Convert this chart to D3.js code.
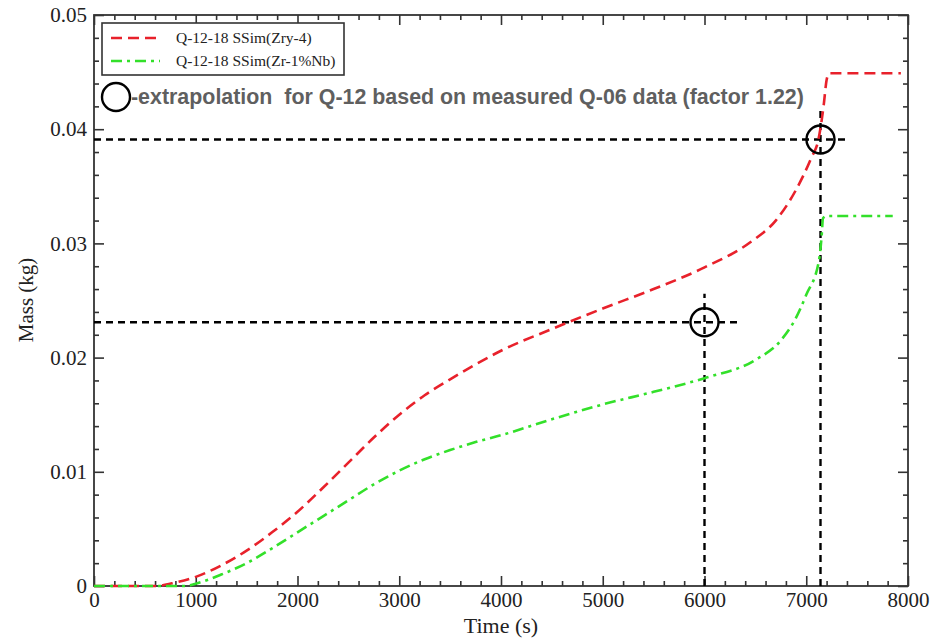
<!DOCTYPE html>
<html>
<head>
<meta charset="utf-8">
<script src="https://cdn.jsdelivr.net/npm/d3@7"></script>
<style>
  body { margin: 0; background: #fff; }
  svg { display: block; }
</style>
</head>
<body>
<div id="chart"></div>
<script>
// time (s) and mass (kg)
const timeZry = [0, 600, 800, 1000, 1250, 1500, 1750, 2000, 2250, 2500, 2750, 3000, 3250, 3500, 3750, 4000, 4500, 5000, 5500, 6000, 6450, 6700, 6900, 7050, 7120, 7170, 7200, 7225, 7930];
const massZry = [0, 0, 0.0003, 0.0008, 0.0018, 0.0031, 0.0047, 0.0065, 0.0086, 0.0108, 0.0130, 0.0150, 0.0167, 0.0181, 0.0194, 0.0206, 0.0225, 0.0243, 0.0260, 0.0279, 0.0301, 0.0320, 0.0347, 0.0375, 0.0391, 0.0420, 0.0443, 0.0449, 0.0449];

const timeNb = [0, 900, 1000, 1250, 1500, 1750, 2000, 2250, 2500, 2750, 3000, 3250, 3500, 3750, 4000, 4500, 5000, 5500, 6000, 6500, 6750, 6900, 7000, 7125, 7150, 7165, 7200, 7850];
const massNb = [0, 0, 0.0002, 0.0010, 0.0020, 0.0033, 0.0047, 0.0061, 0.0075, 0.0089, 0.0101, 0.0111, 0.0119, 0.0126, 0.0132, 0.0146, 0.0159, 0.0170, 0.0182, 0.0198, 0.0215, 0.0235, 0.0255, 0.0285, 0.0305, 0.0322, 0.0324, 0.0324];

const seriesNames = ["Q-12-18 SSim(Zry-4)", "Q-12-18 SSim(Zr-1%Nb)"];

// extrapolation markers: time, mass, end of horizontal guide, top of vertical guide
const markerTime = [6000, 7140];
const markerMass = [0.0231, 0.0391];
const markerLineEndTime = [6320, 7410];
const markerLineTopMass = [0.0256, 0.0419];

const xMajor = [0, 1000, 2000, 3000, 4000, 5000, 6000, 7000, 8000];
const yMajor = [0, 0.01, 0.02, 0.03, 0.04, 0.05];

const annotation = "-extrapolation  for Q-12 based on measured Q-06 data (factor 1.22)";

const width = 931, height = 639;
const margin = { top: 15, right: 23, bottom: 53, left: 94 };
const iw = width - margin.left - margin.right;
const ih = height - margin.top - margin.bottom;

const x = d3.scaleLinear().domain([0, 8000]).range([0, iw]);
const y = d3.scaleLinear().domain([0, 0.05]).range([ih, 0]);

const xMinor = d3.range(0, 8001, 200).filter(v => v % 1000 !== 0);
const yMinor = d3.range(0, 51, 2).map(v => v / 1000).filter((v, i) => i % 5 !== 0);

const svg = d3.select("#chart").append("svg")
    .attr("width", width)
    .attr("height", height);

const g = svg.append("g").attr("transform", `translate(${margin.left},${margin.top})`);

const axisColor = "#333";
const serif = "'Liberation Serif', 'Times New Roman', serif";

function styleAxis(sel) {
  sel.select(".domain").remove();
  sel.selectAll("line").attr("stroke", axisColor).attr("stroke-width", 1.6);
  sel.selectAll("text").attr("fill", "#222").style("font-family", serif).style("font-size", "21px");
}

// major + minor ticks on all four sides, pointing inward
g.append("g").attr("transform", `translate(0,${ih})`)
    .call(d3.axisBottom(x).tickValues(xMajor).tickSize(-10).tickPadding(6).tickFormat(d3.format("d")))
    .call(styleAxis);
g.append("g").attr("transform", `translate(0,${ih})`)
    .call(d3.axisBottom(x).tickValues(xMinor).tickSize(-5).tickFormat(""))
    .call(styleAxis);
g.append("g")
    .call(d3.axisTop(x).tickValues(xMajor).tickSize(-10).tickFormat(""))
    .call(styleAxis);
g.append("g")
    .call(d3.axisTop(x).tickValues(xMinor).tickSize(-5).tickFormat(""))
    .call(styleAxis);

g.append("g")
    .call(d3.axisLeft(y).tickValues(yMajor).tickSize(-10).tickPadding(7)
      .tickFormat(d => d === 0 ? "0" : d.toFixed(2)))
    .call(styleAxis);
g.append("g")
    .call(d3.axisLeft(y).tickValues(yMinor).tickSize(-5).tickFormat(""))
    .call(styleAxis);
g.append("g").attr("transform", `translate(${iw},0)`)
    .call(d3.axisRight(y).tickValues(yMajor).tickSize(-10).tickFormat(""))
    .call(styleAxis);
g.append("g").attr("transform", `translate(${iw},0)`)
    .call(d3.axisRight(y).tickValues(yMinor).tickSize(-5).tickFormat(""))
    .call(styleAxis);

g.append("rect")
    .attr("width", iw).attr("height", ih)
    .attr("fill", "none").attr("stroke", axisColor).attr("stroke-width", 1.8);

// axis titles
svg.append("text")
    .attr("x", margin.left + iw / 2).attr("y", 633)
    .attr("text-anchor", "middle")
    .style("font-family", serif).style("font-size", "22px").attr("fill", "#222")
    .text("Time (s)");
svg.append("text")
    .attr("transform", "translate(33,300) rotate(-90)")
    .attr("text-anchor", "middle")
    .style("font-family", serif).style("font-size", "21px").attr("fill", "#222")
    .text("Mass (kg)");

// dashed guide lines to the extrapolated points
const blackDash = "7,5";
markerTime.forEach((t, i) => {
  g.append("line")
      .attr("x1", 0).attr("x2", x(markerLineEndTime[i]))
      .attr("y1", y(markerMass[i])).attr("y2", y(markerMass[i]))
      .attr("stroke", "#000").attr("stroke-width", 2.4).attr("stroke-dasharray", blackDash);
  g.append("line")
      .attr("x1", x(t)).attr("x2", x(t))
      .attr("y1", ih).attr("y2", y(markerLineTopMass[i]))
      .attr("stroke", "#000").attr("stroke-width", 2.4).attr("stroke-dasharray", blackDash);
});

const line = d3.line()
    .x(d => x(d[0]))
    .y(d => y(d[1]))
    .curve(d3.curveMonotoneX);

const red = "#e8212b", green = "#33e02a";

g.append("path")
    .datum(d3.zip(timeZry, massZry))
    .attr("d", line)
    .attr("fill", "none").attr("stroke", red).attr("stroke-width", 2.6)
    .attr("stroke-dasharray", "11,6");

g.append("path")
    .datum(d3.zip(timeNb, massNb))
    .attr("d", line)
    .attr("fill", "none").attr("stroke", green).attr("stroke-width", 2.6)
    .attr("stroke-dasharray", "11,5,3,5");

g.selectAll("circle.marker")
    .data(d3.zip(markerTime, markerMass))
    .join("circle")
    .attr("class", "marker")
    .attr("cx", d => x(d[0])).attr("cy", d => y(d[1]))
    .attr("r", 14)
    .attr("fill", "none").attr("stroke", "#000").attr("stroke-width", 2.4);

// legend
const legend = svg.append("g");
legend.append("rect")
    .attr("x", 102).attr("y", 23).attr("width", 242).attr("height", 52)
    .attr("fill", "#fff").attr("stroke", axisColor).attr("stroke-width", 1.6);
const legendItems = [
  { name: seriesNames[0], color: red, dash: "11,6" },
  { name: seriesNames[1], color: green, dash: "11,5,3,5" }
];
legendItems.forEach((d, i) => {
  const ly = 38 + i * 23;
  legend.append("line")
      .attr("x1", 111).attr("x2", 160).attr("y1", ly).attr("y2", ly)
      .attr("stroke", d.color).attr("stroke-width", 2.6).attr("stroke-dasharray", d.dash);
  legend.append("text")
      .attr("x", 176).attr("y", ly + 5)
      .style("font-family", serif).style("font-size", "15.5px").attr("fill", "#222")
      .text(d.name);
});

// annotation
svg.append("circle")
    .attr("cx", 116).attr("cy", 97).attr("r", 14)
    .attr("fill", "none").attr("stroke", "#000").attr("stroke-width", 2.4);
svg.append("text")
    .attr("x", 131).attr("y", 104)
    .style("white-space", "pre")
    .style("font-family", "'Liberation Sans', Arial, sans-serif")
    .style("font-size", "21.4px").style("font-weight", "bold")
    .attr("fill", "#5f5f5f")
    .text(annotation);
</script>
</body>
</html>
